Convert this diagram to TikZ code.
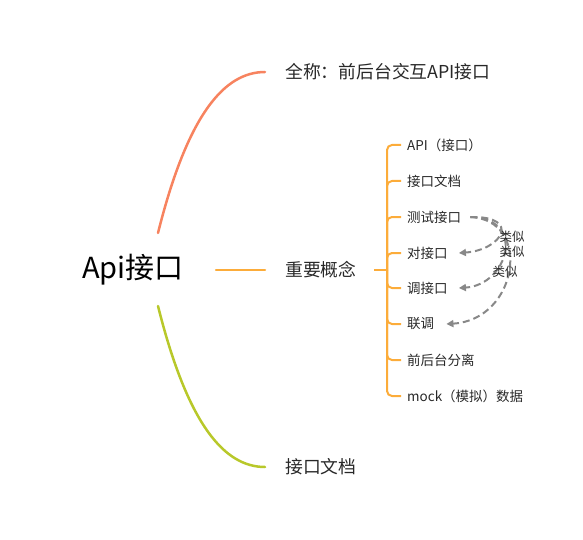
\documentclass[tikz,border=0pt]{standalone}
\usepackage{fontspec}
\setmainfont{Noto Sans CJK SC}
\usetikzlibrary{arrows.meta}
\definecolor{cred}{RGB}{247,131,95}
\definecolor{corange}{RGB}{252,172,58}
\definecolor{cgreen}{RGB}{184,200,42}
\definecolor{cgray}{RGB}{136,136,136}
\definecolor{ctext}{RGB}{40,40,40}
\tikzset{
  rootnode/.style={inner sep=0pt, text=black, font=\fontsize{29}{32}\selectfont},
  topicnode/.style={inner sep=0pt, anchor=west, text=ctext, font=\fontsize{17.8}{20}\selectfont},
  leafnode/.style={inner sep=0pt, anchor=west, text=ctext, font=\fontsize{13.5}{16}\selectfont},
  simnode/.style={inner sep=0pt, text=ctext, font=\fontsize{12.5}{14}\selectfont},
  branch/.style={line width=2.5pt, line cap=round},
  brk/.style={corange, line width=2pt, rounded corners=5pt},
  simarrow/.style={cgray, line width=2pt, dash pattern=on 7pt off 4pt, -{Triangle[length=7pt,width=7pt]}}
}
\begin{document}
\begin{tikzpicture}[x=1pt,y=-1pt]
\useasboundingbox (0,0) rectangle (583,540);
\node[rootnode] (root) at (133,270) {Api接口};
\node[topicnode] (full) at (285,72) {全称：前后台交互API接口};
\node[topicnode] (imp) at (285,270) {重要概念};
\node[topicnode] (doc) at (285,467) {接口文档};
\coordinate (rs) at (158,233);
\coordinate (gs) at (158,306);
\coordinate (os) at (216,270);
\draw[branch, cred] (rs) .. controls (188,113) and (225,72) .. ([xshift=-20pt]full.west);
\draw[branch, corange] (os) -- ([xshift=-20pt]imp.west);
\draw[branch, cgreen] (gs) .. controls (188,426) and (225,467) .. ([xshift=-20pt]doc.west);
% leaves
\node[leafnode] (c1) at (407,145) {API（接口）};
\node[leafnode] (c2) at (407,181) {接口文档};
\node[leafnode] (c3) at (407,217) {测试接口};
\node[leafnode] (c4) at (407,253) {对接口};
\node[leafnode] (c5) at (407,288) {调接口};
\node[leafnode] (c6) at (407,324) {联调};
\node[leafnode] (c7) at (407,360) {前后台分离};
\node[leafnode] (c8) at (407,396) {mock（模拟）数据};
\coordinate (bj) at (387,270);
\coordinate (bs) at (374,270);
\draw[brk] (bs) -- (bj);
\foreach \c in {c1,c2,c3,c4,c5,c6,c7,c8}
  \draw[brk] (bj) |- ([xshift=-6pt]\c.west);
% similar arrows
\draw[simarrow] ([xshift=9pt]c3.east) .. controls (522,216) and (502,250) .. ([xshift=11pt]c4.east);
\draw[simarrow] ([xshift=9pt]c3.east) .. controls (527,218) and (508,285) .. ([xshift=11pt]c5.east);
\draw[simarrow] ([xshift=9pt]c3.east) .. controls (533,220) and (518,320) .. ([xshift=12pt]c6.east);
\node[simnode] (s1) at (512,237) {类似};
\node[simnode] (s2) at (512,252) {类似};
\node[simnode] (s3) at (505,272) {类似};
\end{tikzpicture}
\end{document}
